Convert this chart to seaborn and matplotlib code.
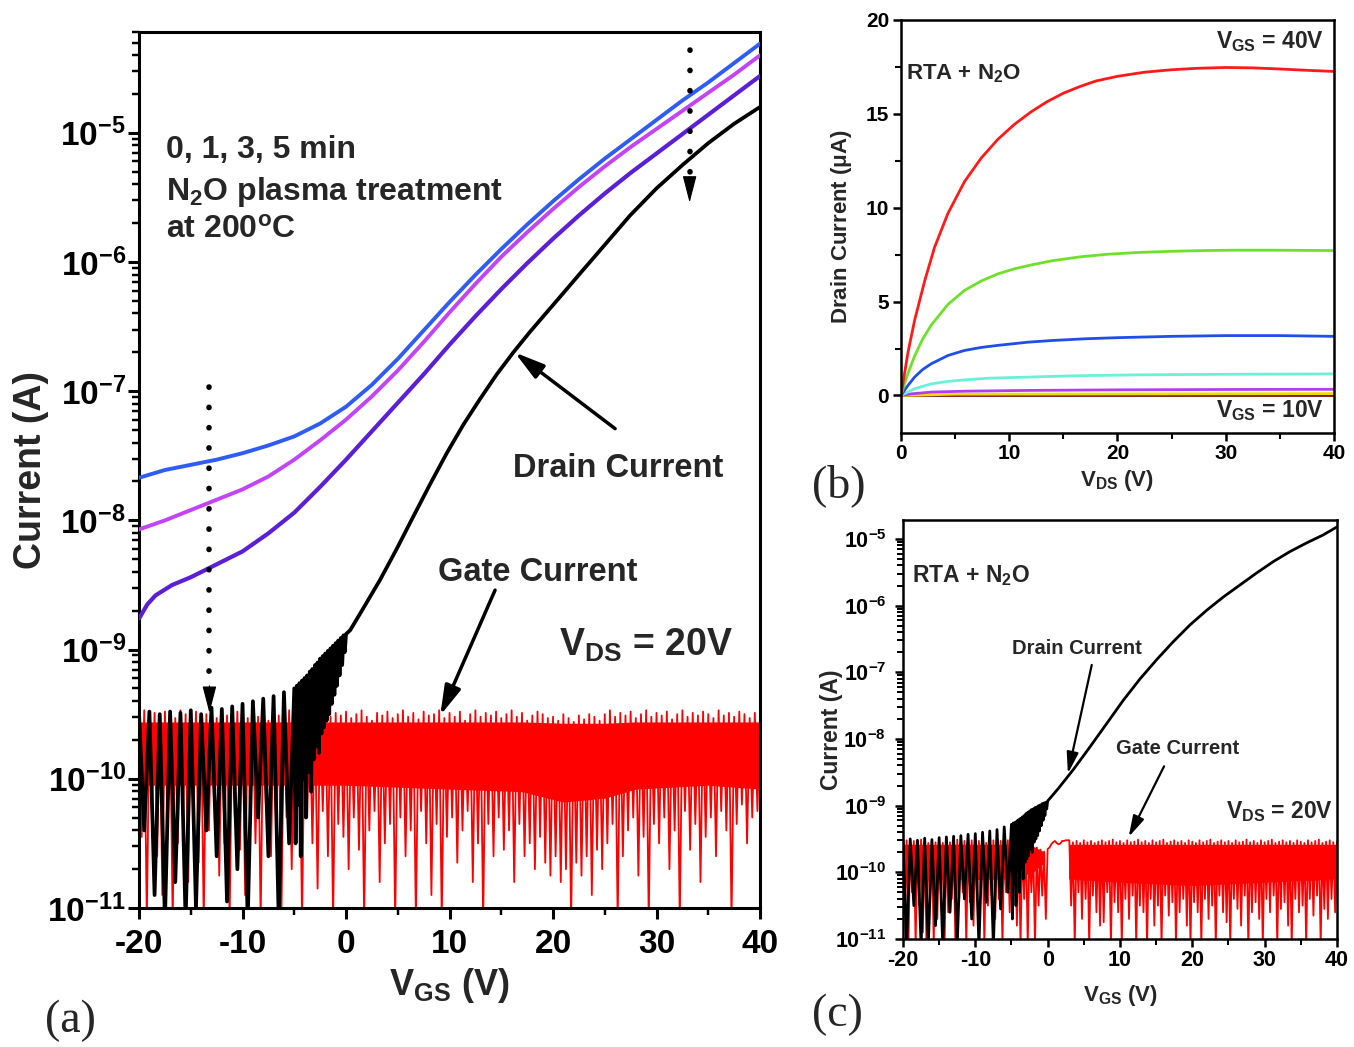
import numpy as np
import pandas as pd
import matplotlib
matplotlib.use('Agg')
import matplotlib.pyplot as plt
import seaborn as sns
from matplotlib.ticker import FixedLocator, LogLocator, FuncFormatter, MultipleLocator, NullFormatter

# ======================= DATA =======================
# ---- panel (a): transfer curves, values are log10(I / A) ----
blue_v = [-20, -17.5, -15, -12.5, -10, -7.5, -5, -2.5, 0, 2.5, 5, 7.5, 10, 12.5, 15,
          17.5, 20, 22.5, 25, 27.5, 30, 32.5, 35, 37.5, 40]
blue_log = [-7.67, -7.61, -7.57, -7.53, -7.48, -7.42, -7.35, -7.25, -7.12, -6.95, -6.75, -6.53,
            -6.31, -6.10, -5.90, -5.71, -5.53, -5.36, -5.20, -5.05, -4.90, -4.75, -4.61, -4.46, -4.31]
magenta_v = [-20, -17.5, -15, -12.5, -10, -7.5, -5, -2.5, 0, 2.5, 5, 7.5, 10, 12.5, 15,
             17.5, 20, 22.5, 25, 27.5, 30, 32.5, 35, 37.5, 40]
magenta_log = [-8.07, -8.00, -7.92, -7.84, -7.76, -7.66, -7.53, -7.38, -7.22, -7.04, -6.84, -6.62,
               -6.39, -6.17, -5.96, -5.77, -5.59, -5.42, -5.26, -5.11, -4.97, -4.83, -4.69, -4.55, -4.40]
violet_v = [-20, -19.2, -18.4, -16.8, -15, -12.5, -10, -7.5, -5, -2.5, 0, 2.5, 5, 7.5, 10, 12.5,
            15, 17.5, 20, 22.5, 25, 27.5, 30, 32.5, 35, 37.5, 40]
violet_log = [-8.76, -8.65, -8.58, -8.50, -8.44, -8.34, -8.24, -8.10, -7.94, -7.74, -7.53, -7.31,
              -7.09, -6.87, -6.64, -6.42, -6.21, -6.01, -5.82, -5.64, -5.47, -5.31, -5.16, -5.01,
              -4.86, -4.71, -4.56]

# drain current (black): noisy part (-20..0 V) then smooth part
drain_a_noise_log = [
    # -20 ... -5.5 V, every 0.5 V
    -9.50, -10.4, -9.48, -10.9, -9.50, -11.1, -9.48, -10.8, -9.49, -11.1, -9.47, -11.0,
    -9.50, -10.4, -9.45, -10.6, -9.46, -10.95, -9.44, -10.7, -9.42, -11.1, -9.40, -10.3,
    -9.38, -10.6, -9.36, -11.1, -9.33, -10.5,
    # -5 ... 0 V, every 0.125 V
    -9.30, -10.5, -9.28, -10.2, -9.26, -10.6, -9.24, -10.0, -9.22, -10.3, -9.20, -9.95,
    -9.17, -10.1, -9.15, -9.85, -9.12, -9.75, -9.10, -9.80, -9.07, -9.65, -9.05, -9.60,
    -9.03, -9.55, -9.01, -9.50, -8.99, -9.42, -8.97, -9.35, -8.95, -9.28, -8.93, -9.20,
    -8.91, -9.12, -8.89, -9.02, -8.88]
drain_a_v = [0.4, 1.67, 3.29, 4.9, 6.5, 8.12, 9.73, 11.33, 12.95, 14.56, 16.16, 17.78, 19.39,
             21.0, 22.6, 24.22, 25.83, 27.44, 30, 32.5, 35, 37.5, 40]
drain_a_log = [-8.85, -8.68, -8.46, -8.22, -7.97, -7.72, -7.48, -7.26, -7.06, -6.87, -6.70, -6.54,
               -6.39, -6.24, -6.09, -5.94, -5.79, -5.64, -5.43, -5.25, -5.08, -4.93, -4.80]

# gate current (red): sweep from -20 V to 40 V, peaks every 0.5 V, valleys in between
sweep_start, sweep_step = -20.0, 0.25
gate_a_peak = [
    -9.50, -9.47, -9.52, -9.49, -9.55, -9.48, -9.51, -9.53, -9.47, -9.50,
    -9.52, -9.48, -9.55, -9.50, -9.47, -9.53, -9.49, -9.51, -9.56, -9.48,
    -9.50, -9.53, -9.47, -9.52, -9.49, -9.55, -9.48, -9.51, -9.50, -9.47,
    -9.53, -9.49, -9.52, -9.48, -9.55, -9.50, -9.47, -9.52, -9.49, -9.51,
    -9.48, -9.53, -9.50, -9.47, -9.52, -9.55, -9.49, -9.51, -9.48, -9.53,
    -9.50, -9.47, -9.52, -9.49, -9.54, -9.48, -9.51, -9.50, -9.47, -9.53,
    -9.49, -9.52, -9.48, -9.55, -9.50, -9.47, -9.52, -9.49, -9.51, -9.48,
    -9.53, -9.50, -9.47, -9.52, -9.49, -9.55, -9.51, -9.48, -9.50, -9.53,
    -9.52, -9.55, -9.50, -9.53, -9.56, -9.51, -9.54, -9.50, -9.52, -9.55,
    -9.50, -9.47, -9.52, -9.49, -9.51, -9.48, -9.53, -9.50, -9.47, -9.52,
    -9.49, -9.51, -9.48, -9.54, -9.50, -9.47, -9.52, -9.49, -9.51, -9.48,
    -9.50, -9.53, -9.47, -9.51, -9.49, -9.52, -9.48, -9.50, -9.53, -9.49,
    -9.52]
gate_a_valley = [
    -10.45, -11.1, -10.3, -10.6, -10.9, -10.25, -11.1, -10.5, -10.35, -10.8,
    -10.3, -10.65, -11.1, -10.4, -10.2, -10.75, -10.5, -11.1, -10.3, -10.55,
    -10.9, -10.35, -10.5, -11.1, -10.2, -10.6, -10.4, -11.1, -10.3, -10.7,
    -10.4, -11.1, -10.3, -10.5, -10.85, -10.25, -10.6, -11.1, -10.35, -10.45,
    -10.7, -10.3, -10.55, -11.1, -10.4, -10.25, -10.8, -10.5, -10.35, -11.1,
    -10.3, -10.6, -10.4, -11.1, -10.25, -10.5, -10.9, -10.35, -11.1, -10.45,
    -10.3, -10.65, -10.4, -10.25, -10.8, -10.5, -11.1, -10.35, -10.6, -10.3,
    -10.55, -10.4, -10.8, -10.35, -10.6, -10.5, -10.7, -10.45, -10.65, -10.75,
    -10.6, -10.8, -10.7, -11.1, -10.65, -10.75, -10.6, -10.9, -10.55, -10.7,
    -10.5, -10.35, -11.1, -10.6, -10.4, -10.3, -10.75, -10.45, -11.1, -10.35,
    -10.5, -10.3, -10.7, -10.4, -11.1, -10.25, -10.55, -10.35, -10.8, -10.45,
    -10.3, -10.6, -10.25, -10.4, -11.1, -10.35, -10.2, -10.5, -10.3, -10.25]
gate_a_core_v = [-20, -3.5, 0, 10, 17, 21, 25, 28, 35, 40]
gate_a_core_floor = [-10.05, -10.05, -10.05, -10.08, -10.10, -10.18, -10.15, -10.08, -10.05, -10.08]
gate_a_core_top = [-9.56, -9.56, -9.56, -9.56, -9.56, -9.57, -9.57, -9.56, -9.56, -9.56]

# ---- panel (b): output curves, drain current in uA vs V_DS ----
out_red_v = [0, 0.65, 1.26, 2.19, 3.11, 4.34, 5.88, 7.42, 8.96, 10.5, 12, 13.5, 15, 16.5, 18, 20,
             22.5, 25, 27.5, 30, 32.5, 35, 37.5, 40]
out_red_i = [0, 2.3, 4.0, 6.1, 7.9, 9.7, 11.4, 12.65, 13.65, 14.45, 15.1, 15.65, 16.1, 16.45,
             16.75, 17.0, 17.22, 17.35, 17.43, 17.47, 17.45, 17.39, 17.32, 17.26]
out_green_v = [0, 0.6, 1.26, 2.0, 2.8, 4.34, 5.88, 7.42, 8.96, 10.5, 12, 14, 16.5, 19, 22, 25,
               28, 31, 34, 37, 40]
out_green_i = [0, 1.1, 2.1, 3.0, 3.75, 4.85, 5.6, 6.1, 6.48, 6.75, 6.95, 7.18, 7.38, 7.52, 7.62,
               7.68, 7.72, 7.74, 7.74, 7.73, 7.72]
out_blue_v = [0, 0.6, 1.26, 2.0, 2.8, 4.34, 5.88, 7.42, 8.96, 11.73, 14, 17, 20, 25, 30, 35, 40]
out_blue_i = [0, 0.5, 0.98, 1.38, 1.69, 2.13, 2.4, 2.56, 2.67, 2.84, 2.93, 3.02, 3.08, 3.15,
              3.19, 3.19, 3.15]
out_cyan_v = [0, 1.26, 2.8, 4.34, 5.88, 8, 11.73, 16, 22, 30, 40]
out_cyan_i = [0, 0.36, 0.62, 0.75, 0.83, 0.92, 0.98, 1.05, 1.1, 1.13, 1.15]
out_violet_v = [0, 1, 2.8, 6, 11.73, 20, 30, 40]
out_violet_i = [0, 0.09, 0.18, 0.23, 0.27, 0.30, 0.32, 0.33]
out_yellow_v = [0, 5, 40]
out_yellow_i = [0, 0.07, 0.10]
out_brown_v = [0, 40]
out_brown_i = [0, 0.0]

# ---- panel (c): RTA + N2O transfer curve, log10(I / A) ----
drain_c_noise_log = [
    # -20 ... -5.5 V, every 0.5 V
    -9.52, -11.1, -9.50, -10.5, -9.52, -11.1, -9.49, -11.1, -9.51, -10.8, -9.48, -11.1,
    -9.47, -10.6, -9.46, -11.1, -9.45, -10.4, -9.43, -10.7, -9.42, -11.1, -9.40, -10.45,
    -9.38, -11.1, -9.36, -10.55, -9.32, -10.3,
    # -5 ... 0 V, every 0.125 V
    -9.28, -10.7, -9.26, -10.2, -9.25, -10.5, -9.23, -10.0, -9.21, -10.3, -9.19, -9.95,
    -9.17, -10.1, -9.15, -9.85, -9.12, -9.80, -9.10, -9.75, -9.08, -9.65, -9.06, -9.70,
    -9.05, -9.55, -9.03, -9.50, -9.02, -9.45, -9.00, -9.38, -8.99, -9.30, -8.97, -9.22,
    -8.96, -9.15, -8.95, -9.05, -8.93]
drain_c_v = [0.25, 1.5, 3.55, 5.85, 8.16, 10.46, 12.77, 15.08, 17.38, 19.68, 21.99, 24.3, 26.6,
             28.9, 31.2, 33.5, 35.8, 38.1, 40]
drain_c_log = [-8.90, -8.74, -8.46, -8.12, -7.77, -7.42, -7.10, -6.81, -6.54, -6.29, -6.07, -5.87,
               -5.69, -5.51, -5.34, -5.19, -5.06, -4.94, -4.82]
gate_c_peak = [
    -9.55, -9.52, -9.56, -9.53, -9.55, -9.51, -9.54, -9.56, -9.52, -9.55,
    -9.53, -9.56, -9.52, -9.55, -9.54, -9.51, -9.55, -9.53, -9.56, -9.52,
    -9.55, -9.53, -9.51, -9.56, -9.54, -9.52, -9.55, -9.53, -9.56, -9.52,
    -9.55, -9.53, -9.52, -9.56, -9.54, -9.57, -9.60, -9.63,
    -9.66, -9.69, -9.65, -9.58, -9.53, -9.58, -9.53, -9.52, -9.52,
    -9.55, -9.53, -9.56,
    -9.52, -9.55, -9.53, -9.56, -9.54, -9.52, -9.55, -9.53, -9.51, -9.55,
    -9.53, -9.56, -9.52, -9.55, -9.54, -9.51, -9.55, -9.53, -9.56, -9.52,
    -9.55, -9.53, -9.51, -9.56, -9.54, -9.52, -9.55, -9.53, -9.56, -9.52,
    -9.54, -9.56, -9.52, -9.55, -9.53, -9.51, -9.56, -9.54, -9.52, -9.55,
    -9.53, -9.56, -9.52, -9.55, -9.54, -9.51, -9.55, -9.53, -9.56, -9.52,
    -9.55, -9.53, -9.51, -9.56, -9.54, -9.52, -9.55, -9.53, -9.56, -9.52,
    -9.54, -9.56, -9.52, -9.55, -9.53, -9.51, -9.56, -9.54, -9.52, -9.55,
    -9.54]
gate_c_valley = [
    -10.6, -11.1, -10.3, -11.1, -10.5, -10.9, -11.1, -10.4, -11.1, -10.7,
    -10.35, -11.1, -10.6, -10.4, -11.1, -10.5, -10.3, -11.1, -10.45, -10.8,
    -10.4, -10.3, -11.1, -10.5, -10.35, -10.7, -10.4, -11.1, -10.3, -10.6,
    -10.35, -10.8, -11.1, -10.4, -11.1, -10.3,
    -11.1, -10.5, -10.35, -10.7, -9.63, -9.55, -9.56, -9.57, -9.53, -9.52,
    -10.5, -11.1, -10.3, -10.7,
    -10.4, -11.1, -10.35, -10.6, -10.8, -10.75, -10.3, -11.1, -10.45, -10.6,
    -11.1, -10.4, -10.7, -10.35, -11.1, -10.5, -10.6, -11.1, -10.4, -10.8,
    -10.5, -11.1, -10.35, -10.65, -10.45, -11.1, -10.6, -10.4, -10.8, -11.1,
    -10.45, -10.6, -11.1, -10.4, -10.7, -10.5, -11.1, -10.35, -10.6, -10.75,
    -11.1, -10.4, -10.55, -10.8, -10.35, -11.1, -10.6, -10.45, -10.7, -11.1,
    -10.4, -10.6, -10.35, -11.1, -10.55, -10.45, -10.8, -11.1, -10.4, -10.6,
    -10.5, -11.1, -10.4, -10.65, -10.35, -11.1, -10.55, -10.7, -10.4, -10.6]
gate_c_core1_v = [-20, -5, -2, -0.4]
gate_c_core1_floor = [-10.12, -10.10, -10.00, -9.85]
gate_c_core1_top = [-9.58, -9.58, -9.61, -9.70]
gate_c_core2_v = [2.9, 10, 20, 30, 40]
gate_c_core2_floor = [-10.10, -10.15, -10.20, -10.15, -10.10]
gate_c_core2_top = [-9.58, -9.58, -9.58, -9.58, -9.58]

# ======================= STYLE =======================
sns.set_style('ticks')
plt.rcParams.update({
    'font.family': ['Liberation Sans', 'DejaVu Sans'],
    'font.weight': 'bold',
    'axes.labelweight': 'bold',
    'axes.unicode_minus': False,
    'mathtext.fontset': 'custom',
    'mathtext.rm': 'Liberation Sans:bold',
    'mathtext.bf': 'Liberation Sans:bold',
    'mathtext.it': 'Liberation Sans:italic:bold',
    'mathtext.sf': 'Liberation Sans:bold',
    'mathtext.default': 'rm',
    'xtick.direction': 'out',
    'ytick.direction': 'out',
    'axes.edgecolor': 'black',
    'xtick.color': 'black',
    'ytick.color': 'black',
})
SERIF = ['Liberation Serif', 'DejaVu Serif']
RED = '#FF0000'


def noise_grid():
    # measurement grid of the noisy sub-threshold sweep
    return np.concatenate([np.arange(-20, -5.25, 0.5), np.arange(-5, 0.0625, 0.125)])


def zigzag(peaks, valleys):
    n = len(peaks) + len(valleys)
    x = sweep_start + sweep_step * np.arange(n)
    y = np.empty(n)
    y[0::2] = peaks
    y[1::2] = valleys
    return x, y


def logline(ax, x, ylog, **kw):
    df = pd.DataFrame({'x': np.asarray(x, float), 'y': 10.0 ** np.asarray(ylog, float)})
    sns.lineplot(data=df, x='x', y='y', ax=ax, sort=False, estimator=None, **kw)


def linline(ax, x, y, **kw):
    df = pd.DataFrame({'x': np.asarray(x, float), 'y': np.asarray(y, float)})
    sns.lineplot(data=df, x='x', y='y', ax=ax, sort=False, estimator=None, **kw)


logfmt = FuncFormatter(lambda v, p: '$10^{%d}$' % int(round(np.log10(v))))


def style_log_axis(ax, top, ticksize, spinew, majlen, minlen, ypad, xpad):
    ax.set_yscale('log')
    ax.set_xlim(-20, 40)
    ax.set_ylim(1e-11, top)
    ax.yaxis.set_major_locator(FixedLocator([10.0 ** k for k in range(-11, -4)]))
    ax.yaxis.set_major_formatter(logfmt)
    ax.yaxis.set_minor_locator(LogLocator(base=10, subs=np.arange(2, 10), numticks=20))
    ax.yaxis.set_minor_formatter(NullFormatter())
    ax.xaxis.set_major_locator(MultipleLocator(10))
    ax.xaxis.set_minor_locator(MultipleLocator(5))
    for s in ax.spines.values():
        s.set_linewidth(spinew)
        s.set_visible(True)
    ax.tick_params(axis='both', which='major', length=majlen, width=spinew, labelsize=ticksize)
    ax.tick_params(axis='both', which='minor', length=minlen, width=spinew * 0.8)
    ax.tick_params(axis='y', which='major', pad=ypad)
    ax.tick_params(axis='x', which='major', pad=xpad)
    ax.tick_params(top=False, right=False, which='both')


fig = plt.figure(figsize=(13.54, 10.47), dpi=100)
ax_a = fig.add_axes([0.1027, 0.1328, 0.4586, 0.8366])
ax_b = fig.add_axes([0.6654, 0.5864, 0.3198, 0.3945])
ax_c = fig.add_axes([0.6669, 0.1032, 0.3205, 0.4002])

# ======================= PANEL (a) =======================
style_log_axis(ax_a, 10 ** -4.22, 24, 2.2, 8, 5, 1.5, 7.5)
ax_a.fill_between(gate_a_core_v, 10.0 ** np.array(gate_a_core_floor), 10.0 ** np.array(gate_a_core_top),
                  color=RED, lw=0, zorder=1)
gx, gy = zigzag(gate_a_peak, gate_a_valley)
logline(ax_a, gx, gy, color=RED, lw=1.3, zorder=1.5)
logline(ax_a, list(noise_grid()) + drain_a_v, drain_a_noise_log + drain_a_log,
        color='black', lw=2.7, zorder=2)
logline(ax_a, violet_v, violet_log, color='#5B1FD6', lw=3.0, zorder=3)
logline(ax_a, magenta_v, magenta_log, color='#C244F6', lw=2.8, zorder=3)
logline(ax_a, blue_v, blue_log, color='#2F5CF4', lw=2.8, zorder=3)

ax_a.set_xlabel('V$_{GS}$ (V)', fontsize=26)
ax_a.set_ylabel('Current (A)', fontsize=27)
ax_a.xaxis.set_label_coords(0.5, -0.066, transform=ax_a.transAxes)
ax_a.xaxis.label.set_va('top')
ax_a.yaxis.set_label_coords(-0.145, 0.5, transform=ax_a.transAxes)

ax_a.text(0.044, 0.856, '0, 1, 3, 5 min', transform=ax_a.transAxes, fontsize=23, va='baseline')
ax_a.text(0.044, 0.808, 'N$_2$O plasma treatment', transform=ax_a.transAxes, fontsize=23, va='baseline')
ax_a.text(0.044, 0.765, 'at 200$^o$C', transform=ax_a.transAxes, fontsize=23, va='baseline')
ax_a.text(0.602, 0.492, 'Drain Current', transform=ax_a.transAxes, fontsize=23.5, va='baseline')
ax_a.text(0.481, 0.373, 'Gate Current', transform=ax_a.transAxes, fontsize=23.5, va='baseline')
ax_a.text(0.676, 0.288, 'V$_{DS}$ = 20V', transform=ax_a.transAxes, fontsize=27, va='baseline')

solid_head = '-|>,head_length=0.9,head_width=0.25'
ax_a.annotate('', xy=(16.3, 10 ** -6.70), xytext=(26.0, 10 ** -7.29),
              arrowprops=dict(arrowstyle=solid_head, color='black', lw=2.5, mutation_scale=20,
                              shrinkA=0, shrinkB=0), zorder=5)
ax_a.annotate('', xy=(9.1, 10 ** -9.51), xytext=(14.4, 10 ** -8.54),
              arrowprops=dict(arrowstyle=solid_head, color='black', lw=2.5, mutation_scale=20,
                              shrinkA=0, shrinkB=0), zorder=5)

# dotted arrows (shift with treatment time)
dot_head = '-|>,head_length=0.85,head_width=0.22'
for xv, ytop, yhead, ytip in [(-13.2, -6.97, -9.30, -9.49), (33.2, -4.36, -5.36, -5.54)]:
    ax_a.plot([xv, xv], [10 ** ytop, 10 ** yhead], color='black', lw=4.0,
              linestyle=(0, (0.05, 3.6)), dash_capstyle='round', zorder=5)
    ax_a.annotate('', xy=(xv, 10 ** ytip), xytext=(xv, 10 ** (yhead + 0.02)),
                  arrowprops=dict(arrowstyle=dot_head, color='black', lw=0.8, mutation_scale=20,
                                  shrinkA=0, shrinkB=0), zorder=5)

# ======================= PANEL (b) =======================
ax_b.set_xlim(0, 40)
ax_b.set_ylim(-2, 20)
for xs, ys, col in [(out_brown_v, out_brown_i, '#7A1515'), (out_yellow_v, out_yellow_i, '#EEDD00'),
                    (out_violet_v, out_violet_i, '#B43CF0'), (out_cyan_v, out_cyan_i, '#6CF0D8'),
                    (out_blue_v, out_blue_i, '#1F4FE8'), (out_green_v, out_green_i, '#6FE02A'),
                    (out_red_v, out_red_i, '#FF1A1A')]:
    linline(ax_b, xs, ys, color=col, lw=2.0)
ax_b.xaxis.set_major_locator(MultipleLocator(10))
ax_b.xaxis.set_minor_locator(MultipleLocator(5))
ax_b.yaxis.set_major_locator(MultipleLocator(5))
ax_b.yaxis.set_minor_locator(MultipleLocator(2.5))
for s in ax_b.spines.values():
    s.set_linewidth(1.8)
    s.set_visible(True)
ax_b.tick_params(axis='both', which='major', length=6, width=1.8, labelsize=15)
ax_b.tick_params(axis='both', which='minor', length=4, width=1.5)
ax_b.tick_params(axis='y', which='major', pad=2.5)
ax_b.tick_params(axis='x', which='major', pad=2)
ax_b.tick_params(top=False, right=False, which='both')
ax_b.set_xlabel('V$_{DS}$ (V)', fontsize=16)
ax_b.set_ylabel('Drain Current ($\\mu$A)', fontsize=16)
ax_b.xaxis.set_label_coords(0.5, -0.085, transform=ax_b.transAxes)
ax_b.xaxis.label.set_va('top')
ax_b.yaxis.set_label_coords(-0.108, 0.5, transform=ax_b.transAxes)
ax_b.text(0.0127, 0.855, 'RTA + N$_2$O', transform=ax_b.transAxes, fontsize=16, va='baseline')
ax_b.text(0.976, 0.931, 'V$_{GS}$ = 40V', transform=ax_b.transAxes, fontsize=16.5, va='baseline', ha='right')
ax_b.text(0.976, 0.0395, 'V$_{GS}$ = 10V', transform=ax_b.transAxes, fontsize=16.5, va='baseline', ha='right')

# ======================= PANEL (c) =======================
style_log_axis(ax_c, 10 ** -4.715, 15.5, 1.8, 6, 4, 6, 2)
for cv, cf, ct in [(gate_c_core1_v, gate_c_core1_floor, gate_c_core1_top),
                   (gate_c_core2_v, gate_c_core2_floor, gate_c_core2_top)]:
    ax_c.fill_between(cv, 10.0 ** np.array(cf), 10.0 ** np.array(ct), color=RED, lw=0, zorder=1)
gx, gy = zigzag(gate_c_peak, gate_c_valley)
logline(ax_c, gx, gy, color=RED, lw=1.3, zorder=1.5)
logline(ax_c, list(noise_grid()) + drain_c_v, drain_c_noise_log + drain_c_log,
        color='black', lw=2.0, zorder=2)
ax_c.set_xlabel('V$_{GS}$ (V)', fontsize=16)
ax_c.set_ylabel('Current (A)', fontsize=16.5)
ax_c.xaxis.set_label_coords(0.5, -0.105, transform=ax_c.transAxes)
ax_c.xaxis.label.set_va('top')
ax_c.yaxis.set_label_coords(-0.139, 0.5, transform=ax_c.transAxes)
ax_c.text(0.0205, 0.851, 'RTA + N$_2$O', transform=ax_c.transAxes, fontsize=16.5, va='baseline')
ax_c.text(0.252, 0.680, 'Drain Current', transform=ax_c.transAxes, fontsize=14.5, va='baseline')
ax_c.text(0.491, 0.4406, 'Gate Current', transform=ax_c.transAxes, fontsize=14.5, va='baseline')
ax_c.text(0.744, 0.289, 'V$_{DS}$ = 20V', transform=ax_c.transAxes, fontsize=16.5, va='baseline')
head_c = '-|>,head_length=0.8,head_width=0.22'
ax_c.annotate('', xy=(2.8, 10 ** -8.52), xytext=(6.1, 10 ** -6.89),
              arrowprops=dict(arrowstyle=head_c, color='black', lw=1.6, mutation_scale=16,
                              shrinkA=0, shrinkB=0), zorder=5)
ax_c.annotate('', xy=(11.2, 10 ** -9.47), xytext=(16.1, 10 ** -8.41),
              arrowprops=dict(arrowstyle=head_c, color='black', lw=1.6, mutation_scale=16,
                              shrinkA=0, shrinkB=0), zorder=5)

# ======================= panel letters =======================
fig.text(0.0332, 0.0143, '(a)', fontsize=33, family=SERIF, fontweight='normal', va='baseline')
fig.text(0.5997, 0.525, '(b)', fontsize=33, family=SERIF, fontweight='normal', va='baseline')
fig.text(0.5997, 0.020, '(c)', fontsize=33, family=SERIF, fontweight='normal', va='baseline')

fig.savefig('out.png', dpi=100, facecolor='white')
